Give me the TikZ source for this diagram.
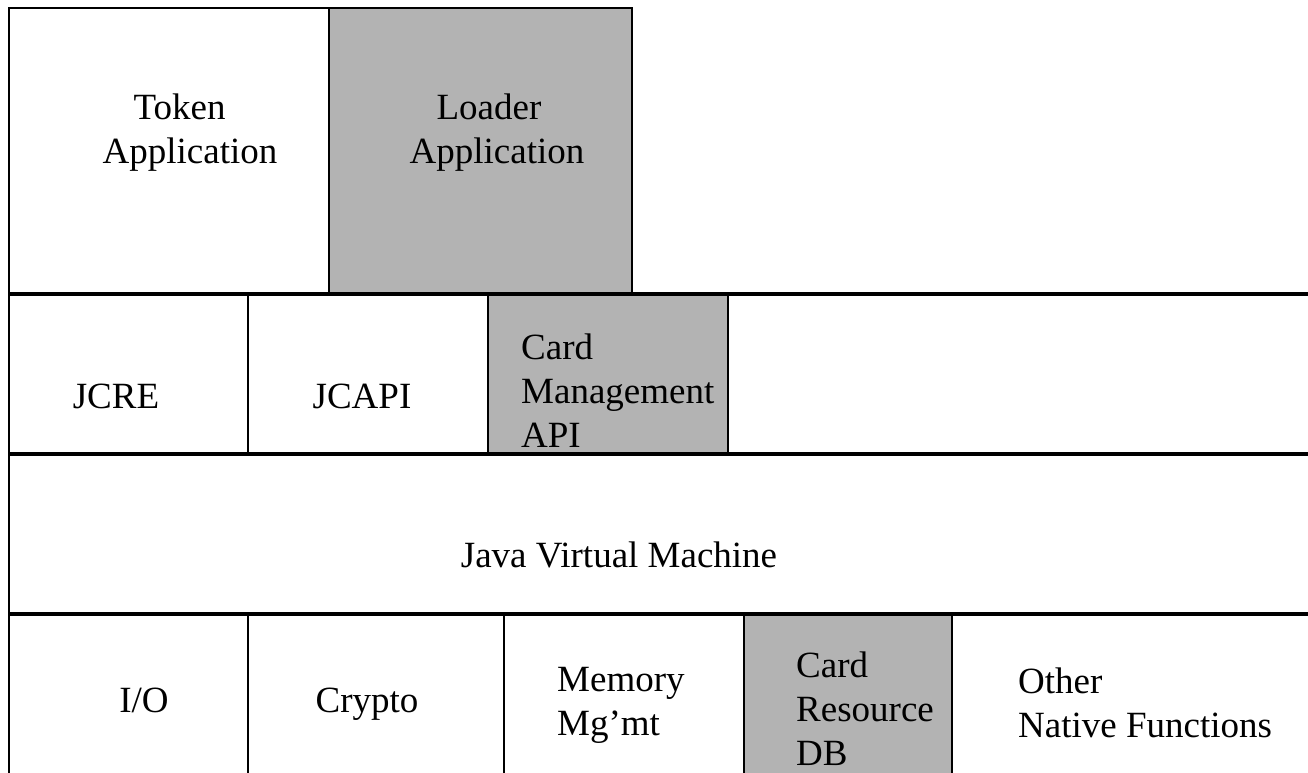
\documentclass[tikz,border=0pt]{standalone}
\usepackage{fontspec}
\setmainfont{Liberation Serif}
\definecolor{boxgray}{RGB}{179,179,179}
\begin{document}
\begin{tikzpicture}[x=1pt,y=-1pt,
  box/.style={draw=black, line width=2pt, anchor=north west, inner sep=0pt, outer sep=0pt},
  graybox/.style={box, fill=boxgray},
  sepline/.style={draw=black, line width=3.2pt},
  lbl/.style={font=\fontsize{37}{44}\selectfont, inner sep=0pt, align=left, anchor=base west},
  clbl/.style={font=\fontsize{37}{44}\selectfont, inner sep=0pt, align=center, anchor=base}]
\useasboundingbox (0,0) rectangle (1308,772);
\fill[white] (0,0) rectangle (1308,772);
% top row
\node[box, minimum width=320, minimum height=286] (token) at (9,8) {};
\node[graybox, minimum width=303, minimum height=286] (loader) at (329,8) {};
% row 2
\node[box, minimum width=239, minimum height=160] (jcre) at (9,294) {};
\node[box, minimum width=240, minimum height=160] (jcapi) at (248,294) {};
\node[graybox, minimum width=240, minimum height=160] (cmapi) at (488,294) {};
% row 3
\node[box, minimum width=1330, minimum height=160] (jvm) at (9,454) {};
% row 4
\node[box, minimum width=239, minimum height=190] (io) at (9,614) {};
\node[box, minimum width=256, minimum height=190] (crypto) at (248,614) {};
\node[box, minimum width=240, minimum height=190] (mem) at (504,614) {};
\node[graybox, minimum width=208, minimum height=190] (crdb) at (744,614) {};
\node[box, minimum width=400, minimum height=190] (other) at (952,614) {};
% full-width separators
\coordinate (e1) at (1320,294);
\coordinate (e2) at (1320,454);
\coordinate (e3) at (1320,614);
\draw[sepline] (jcre.north west) -- (e1);
\draw[sepline] (jvm.north west) -- (e2);
\draw[sepline] (io.north west) -- (e3);
% labels (anchor = baseline of the last line)
\node[clbl] (ttoken) at (190,163) {Token\kern21pt\\Application};
\node[clbl] (tloader) at (497,163) {Loader\kern16pt\\Application};
\node[clbl] (tjcre) at (116,408) {JCRE};
\node[clbl] (tjcapi) at (362,408) {JCAPI};
\node[lbl] (tcmapi) at (521,447) {Card\\Management\\API};
\node[clbl] (tjvm) at (619,567) {Java Virtual Machine};
\node[clbl] (tio) at (144,712) {I/O};
\node[clbl] (tcrypto) at (367,712) {Crypto};
\node[lbl] (tmem) at (557,735) {Memory\\Mg’mt};
\node[lbl] (tcrdb) at (796,765) {Card\\Resource\\DB};
\node[lbl] (tother) at (1018,737) {Other\\Native Functions};
\end{tikzpicture}
\end{document}
